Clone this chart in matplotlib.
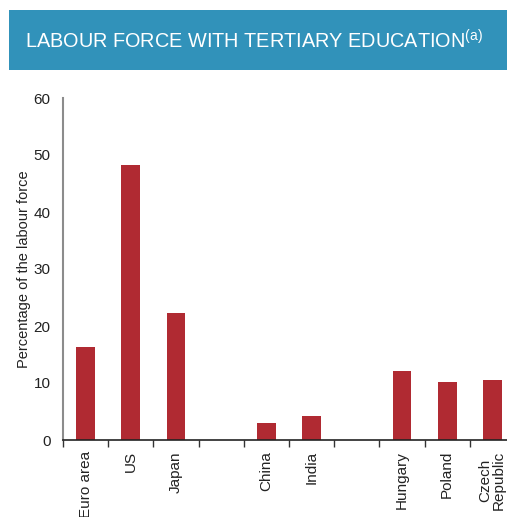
import numpy as np
import matplotlib.pyplot as plt
from matplotlib.patches import Rectangle

plt.rcParams['font.family'] = ['Liberation Sans', 'DejaVu Sans']

# blank entries keep the gaps between country groups
countries = ['Euro area', 'US', 'Japan', '', 'China', 'India', '', 'Hungary', 'Poland', 'Czech\nRepublic']
shares = [16.4, 48.2, 22.2, np.nan, 2.9, 4.2, np.nan, 12.1, 10.2, 10.5]
yticks = [0, 10, 20, 30, 40, 50, 60]

fig = plt.figure(figsize=(5.07, 5.17), dpi=100)

# header banner
fig.patches.append(Rectangle((9 / 507, 1 - 70 / 517), 1, 60 / 517, transform=fig.transFigure,
                             facecolor='#3192ba', edgecolor='none'))
fig.text(25 / 507, 1 - 41 / 517, 'LABOUR FORCE WITH TERTIARY EDUCATION$^{\\mathregular{(a)}}$',
         color='white', fontsize=14.3, va='center', ha='left')

ax = fig.add_axes([63 / 507, 77 / 517, 452 / 507, 342 / 517])
x = np.arange(len(countries))
ax.bar(x, shares, width=0.42, color='#b02a32', edgecolor='none')

ax.set_xlim(-0.5, len(countries) - 0.5)
ax.set_ylim(0, 60)
ax.set_yticks(yticks)
ax.tick_params(axis='y', length=0, labelsize=11, labelcolor='#222222', pad=9)

ax.set_xticks(x)
ax.set_xticklabels(countries, rotation=90, fontsize=11, color='#222222', va='top', linespacing=0.95)
ax.tick_params(axis='x', which='major', length=0, pad=8)
ax.set_xticks(np.arange(len(countries) + 1) - 0.5, minor=True)
ax.tick_params(axis='x', which='minor', length=5, width=1, color='#333333', direction='out')

ax.set_ylabel('Percentage of the labour force', fontsize=10.5, color='#222222', labelpad=2)

for s in ['top', 'right']:
    ax.spines[s].set_visible(False)
ax.spines['left'].set_color('#8c8c8c')
ax.spines['left'].set_linewidth(1.5)
ax.spines['bottom'].set_color('#222222')
ax.spines['bottom'].set_linewidth(1.2)

fig.savefig('out.png', dpi=100)
